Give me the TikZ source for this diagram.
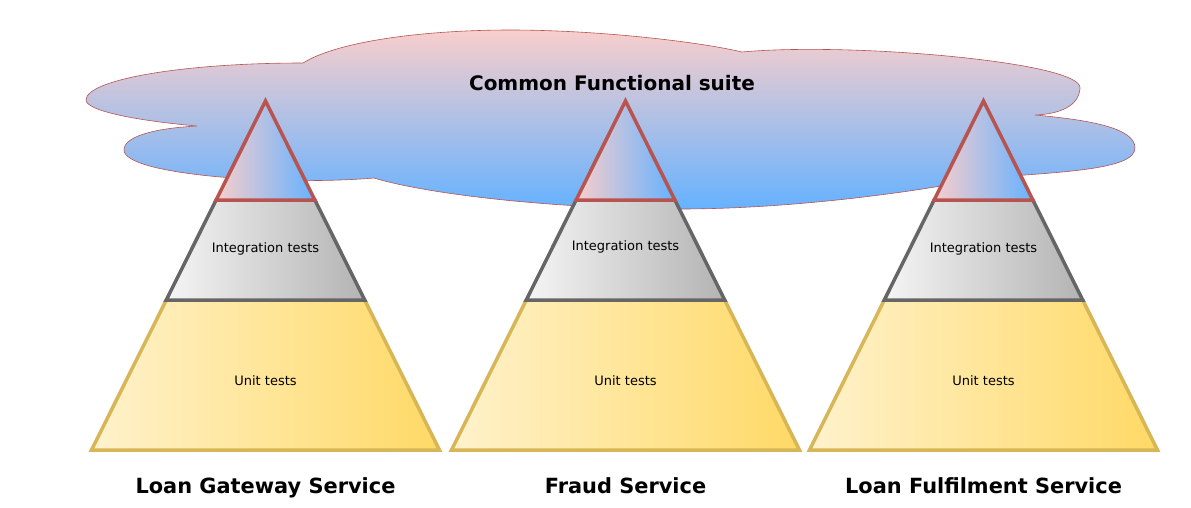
\documentclass[tikz,border=0pt]{standalone}
\usepackage{fontspec}
\setmainfont{DejaVu Sans}
\definecolor{cpink}{HTML}{F8CECC}
\definecolor{cblue}{HTML}{66B2FF}
\definecolor{cred}{HTML}{B85450}
\definecolor{gleft}{HTML}{F5F5F5}
\definecolor{gright}{HTML}{B3B3B3}
\definecolor{gline}{HTML}{666666}
\definecolor{yleft}{HTML}{FFF2CC}
\definecolor{yright}{HTML}{FFD966}
\definecolor{yline}{HTML}{D6B656}
\begin{document}
\begin{tikzpicture}[x=1pt,y=-1pt,
  cloudshape/.style={draw=cred, line width=0.6pt, top color=cpink, bottom color=cblue},
  toplayer/.style={draw=cred, line width=3.5pt, line join=miter, left color=cpink, right color=cblue},
  midlayer/.style={draw=gline, line width=3.5pt, line join=miter, left color=gleft, right color=gright},
  botlayer/.style={draw=yline, line width=3.5pt, line join=miter, left color=yleft, right color=yright},
  layerlabel/.style={font=\fontsize{13}{15}\selectfont, inner sep=0pt, anchor=base},
  servicelabel/.style={font=\fontsize{20.9}{24}\selectfont\bfseries, inner sep=0pt, anchor=base},
]
\useasboundingbox (0,0) rectangle (1191,507);
\fill[white] (0,0) rectangle (1191,507);
% cloud
\path[cloudshape] (303,63)
  .. controls (340,40) and (430,30) .. (510,30)
  .. controls (600,30) and (700,42) .. (742,52)
  .. controls (850,42) and (1082,62) .. (1080,88)
  .. controls (1079,106) and (1060,114) .. (1035,115)
  .. controls (1090,120) and (1135,128) .. (1135,148)
  .. controls (1135,170) and (1060,172) .. (985,178)
  .. controls (900,195) and (780,209) .. (680,209)
  .. controls (560,209) and (430,195) .. (374,178)
  .. controls (280,186) and (124,175) .. (124,150)
  .. controls (124,135) and (160,128) .. (197,126)
  .. controls (130,120) and (86,110) .. (86,100)
  .. controls (86,80) and (180,63) .. (303,63) -- cycle;
\node[font=\fontsize{20}{24}\selectfont\bfseries, inner sep=0pt, anchor=base] (suite) at (612,90) {Common Functional suite};
% pyramids
\foreach \cx/\nm/\iy/\title in {265.5/lg/252/Loan Gateway Service, 625.5/fr/250.5/Fraud Service, 983.5/lf/252/Loan Fulfilment Service}{
  \path[botlayer] (\cx-99.2,300) -- (\cx+99.2,300) -- (\cx+174,450) -- (\cx-174,450) -- cycle;
  \path[midlayer] (\cx-49.4,200) -- (\cx+49.4,200) -- (\cx+99.2,300) -- (\cx-99.2,300) -- cycle;
  \path[toplayer] (\cx,101) -- (\cx+49.4,200) -- (\cx-49.4,200) -- cycle;
  \node[layerlabel] (\nm-int) at (\cx,\iy) {Integration tests};
  \node[layerlabel] (\nm-unit) at (\cx,385) {Unit tests};
  \node[servicelabel] (\nm-name) at (\cx,493) {\title};
}
\end{tikzpicture}
\end{document}
